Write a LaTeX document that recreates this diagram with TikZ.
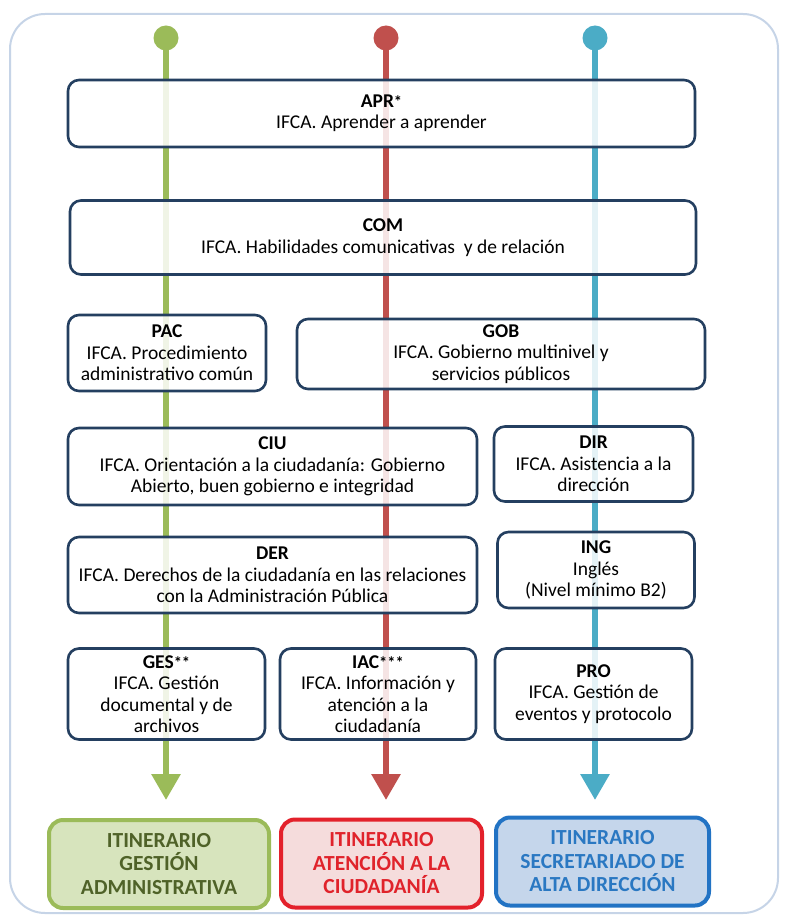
\documentclass[tikz,border=0pt]{standalone}
\usepackage{fontspec}
\setmainfont{Carlito}
\usetikzlibrary{arrows.meta,shapes.geometric}
\definecolor{lgreen}{HTML}{9BBB59}
\definecolor{lred}{HTML}{C0504D}
\definecolor{lblue}{HTML}{4BACC6}
\definecolor{navy}{HTML}{243F60}
\definecolor{framec}{HTML}{C6D4E7}
\definecolor{gfill}{HTML}{D7E4BD}
\definecolor{gtext}{HTML}{4F6228}
\definecolor{rfill}{HTML}{F5DCDC}
\definecolor{rborder}{HTML}{E3212B}
\definecolor{rtext}{HTML}{E0232B}
\definecolor{bfill}{HTML}{C5D6EB}
\definecolor{bborder}{HTML}{2273C4}
\definecolor{btext}{HTML}{2A78C2}
\newcommand{\st}{{\fontsize{16.5}{16.5}\selectfont *}}
\begin{document}
\begin{tikzpicture}[x=1pt,y=-1pt,
  box/.style={draw=navy, line width=2.6pt, rounded corners=11pt, fill=white,
    fill opacity=0.85, text opacity=1, align=center,
    font=\fontsize{19.5}{21.5}\selectfont, inner sep=0pt},
  itin/.style={line width=4pt, rounded corners=14pt, align=center,
    font=\bfseries\fontsize{21.5}{23.5}\selectfont, inner sep=0pt},
  track/.style={line width=6pt, -{Triangle[width=28pt,length=26pt]}},
  pinhead/.style={ellipse, minimum width=25pt, minimum height=25pt, inner sep=0pt}
]
\useasboundingbox (0,0) rectangle (785,917);
\draw[framec, line width=2pt, rounded corners=35pt, fill=white] (10,14) rectangle (778,913);

% pins and arrow ends
\node[pinhead, fill=lgreen] (pg) at (166,38) {};
\node[pinhead, fill=lred] (pr) at (386,38) {};
\node[pinhead, fill=lblue] (pb) at (595,38) {};
\coordinate (ag) at (166,800);
\coordinate (ar) at (386,800);
\coordinate (ab) at (595,800);
\draw[track, lgreen] (pg.center) -- (ag);
\draw[track, lred] (pr.center) -- (ar);
\draw[track, lblue] (pb.center) -- (ab);

% boxes
\node[box, minimum width=627, minimum height=67] (apr) at (381.5,113.5)
  {\textbf{APR\st}\\IFCA. Aprender a aprender};
\node[box, minimum width=626, minimum height=74] (com) at (383,237.5)
  {\textbf{COM}\\IFCA. Habilidades comunicativas\ \ y de relación};
\node[box, minimum width=198, minimum height=76] (pac) at (167,353)
  {\textbf{PAC}\\IFCA. Procedimiento\\administrativo común};
\node[box, minimum width=408, minimum height=70] (gob) at (501,354)
  {\textbf{GOB}\\IFCA. Gobierno multinivel y\\servicios públicos};
\node[box, minimum width=409, minimum height=77] (ciu) at (272.5,466.5)
  {\textbf{CIU}\\IFCA. Orientación a la ciudadanía: Gobierno\\Abierto, buen gobierno e integridad};
\node[box, minimum width=199, minimum height=75] (dir) at (593.5,464)
  {\textbf{DIR}\\IFCA. Asistencia a la\\dirección};
\node[box, minimum width=409, minimum height=76] (der) at (272.5,575)
  {\textbf{DER}\\IFCA. Derechos de la ciudadanía en las relaciones\\con la Administración Pública};
\node[box, minimum width=197, minimum height=76] (ing) at (596,570)
  {\textbf{ING}\\Inglés\\(Nivel mínimo B2)};
\node[box, minimum width=197, minimum height=91] (ges) at (166.5,694)
  {\textbf{GES\st\st}\\IFCA. Gestión\\documental y de\\archivos};
\node[box, minimum width=196, minimum height=91] (iac) at (378,694)
  {\textbf{IAC\st\st\st}\\IFCA. Información y\\atención a la\\ciudadanía};
\node[box, minimum width=197, minimum height=91] (pro) at (593.5,694)
  {\textbf{PRO}\\IFCA. Gestión de\\eventos y protocolo};

% itineraries
\node[itin, draw=lgreen, fill=gfill, text=gtext, minimum width=220, minimum height=88] (ig) at (159,864)
  {ITINERARIO\\GESTIÓN\\ADMINISTRATIVA};
\node[itin, draw=rborder, fill=rfill, text=rtext, minimum width=201, minimum height=88] (ir) at (381.5,863.5)
  {ITINERARIO\\ATENCIÓN A LA\\CIUDADANÍA};
\node[itin, draw=bborder, fill=bfill, text=btext, minimum width=213, minimum height=88] (ib) at (602.5,861.5)
  {ITINERARIO\\SECRETARIADO DE\\ALTA DIRECCIÓN};
\end{tikzpicture}
\end{document}
